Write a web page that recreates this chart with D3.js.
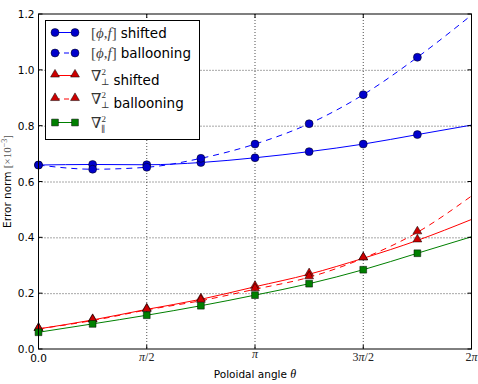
<!DOCTYPE html>
<html>
<head>
<meta charset="utf-8">
<script src="https://cdn.jsdelivr.net/npm/d3@7"></script>
<style>
  body { margin: 0; background: #fff; }
  svg { display: block; }
  .tick-label { font-family: "DejaVu Sans", sans-serif; font-size: 10.5px; fill: #000; }
  .math { font-family: "Liberation Serif", "DejaVu Serif", serif; }
</style>
</head>
<body>
<svg id="chart" width="478" height="384"></svg>
<script>
// DATA: poloidal angle in units of pi (markers), last line point is 2pi
const thetaPi = [0, 0.25, 0.5, 0.75, 1, 1.25, 1.5, 1.75, 2];

// error norms (x1e-3); the 9th value is where the curve ends at 2pi (no marker)
const phiShifted   = [0.659, 0.661, 0.660, 0.668, 0.685, 0.707, 0.734, 0.768, 0.802];
const phiBalloon   = [0.659, 0.644, 0.651, 0.683, 0.734, 0.807, 0.911, 1.045, 1.196];
const perpShifted  = [0.072, 0.104, 0.142, 0.178, 0.223, 0.268, 0.325, 0.389, 0.464];
const perpBalloon  = [0.072, 0.102, 0.140, 0.173, 0.214, 0.257, 0.325, 0.418, 0.548];
const parShifted   = [0.060, 0.090, 0.121, 0.155, 0.193, 0.234, 0.284, 0.343, 0.402];

const yTicks = [0, 0.2, 0.4, 0.6, 0.8, 1.0, 1.2];
const xTicks = [0, 0.5, 1, 1.5, 2];
const xTickLabels = ["0.0", "π/2", "π", "3π/2", "2π"];

// SETUP
const margin = { top: 14, right: 6.5, bottom: 35, left: 38.5 },
      width = 478 - margin.left - margin.right,
      height = 384 - margin.top - margin.bottom;

const svg = d3.select("#chart");
const g = svg.append("g").attr("transform", `translate(${margin.left},${margin.top})`);

// SCALES
const x = d3.scaleLinear().domain([0, 2]).range([0, width]);
const y = d3.scaleLinear().domain([0, 1.2]).range([height, 0]);

// GRID (dotted)
g.append("g").selectAll("line").data(yTicks.slice(1, -1)).join("line")
    .attr("x1", 0).attr("x2", width)
    .attr("y1", d => y(d) + 0.5).attr("y2", d => y(d) + 0.5)
    .attr("stroke", "#222").attr("stroke-width", 0.8).attr("stroke-dasharray", "1,2");
g.append("g").selectAll("line").data(xTicks.slice(1, -1)).join("line")
    .attr("x1", d => x(d)).attr("x2", d => x(d))
    .attr("y1", 0).attr("y2", height)
    .attr("stroke", "#222").attr("stroke-width", 0.8).attr("stroke-dasharray", "1,2");

// SERIES
const series = [
  { vals: phiShifted,  color: "#0000ff", mfill: "#0000cc", dash: null,  marker: "circle" },
  { vals: phiBalloon,  color: "#0000ff", mfill: "#0000cc", dash: "6,5", marker: "circle" },
  { vals: perpShifted, color: "#ff0000", mfill: "#cc0000", dash: null,  marker: "triangle" },
  { vals: perpBalloon, color: "#ff0000", mfill: "#cc0000", dash: "6,5", marker: "triangle" },
  { vals: parShifted,  color: "#008000", mfill: "#008000", dash: null,  marker: "square" }
];

const line = d3.line()
    .x((d, i) => x(thetaPi[i]))
    .y(d => y(d))
    .curve(d3.curveMonotoneX);

const symbolOf = {
  circle: d3.symbol().type(d3.symbolCircle).size(50),
  triangle: d3.symbol().type(d3.symbolTriangle).size(34),
  square: d3.symbol().type(d3.symbolSquare).size(46)
};

series.forEach(s => {
  g.append("path")
      .datum(s.vals)
      .attr("fill", "none")
      .attr("stroke", s.color)
      .attr("stroke-width", 1)
      .attr("stroke-dasharray", s.dash)
      .attr("d", line);
  g.append("g").selectAll("path")
      .data(s.vals.slice(0, 8))
      .join("path")
      .attr("transform", (d, i) => `translate(${x(thetaPi[i])},${y(d) + (s.marker === "triangle" ? -1 : 0)})`)
      .attr("d", symbolOf[s.marker]())
      .attr("fill", s.mfill)
      .attr("stroke", "#000")
      .attr("stroke-width", 0.5);
});

// FRAME
g.append("rect")
    .attr("x", 0).attr("y", 0).attr("width", width).attr("height", height)
    .attr("fill", "none").attr("stroke", "#000").attr("stroke-width", 1);

// TICKS (inward, all four sides)
yTicks.forEach(t => {
  g.append("line").attr("x1", 0).attr("x2", 4).attr("y1", y(t)).attr("y2", y(t)).attr("stroke", "#000");
  g.append("line").attr("x1", width - 4).attr("x2", width).attr("y1", y(t)).attr("y2", y(t)).attr("stroke", "#000");
  g.append("text").attr("class", "tick-label")
      .attr("x", -4).attr("y", y(t) + 4)
      .attr("text-anchor", "end")
      .text(d3.format(".1f")(t));
});
xTicks.forEach((t, i) => {
  g.append("line").attr("x1", x(t)).attr("x2", x(t)).attr("y1", height - 4).attr("y2", height).attr("stroke", "#000");
  g.append("line").attr("x1", x(t)).attr("x2", x(t)).attr("y1", 0).attr("y2", 4).attr("stroke", "#000");
  const lab = xTickLabels[i];
  if (lab === "0.0") {
    g.append("text").attr("class", "tick-label")
        .attr("x", x(t)).attr("y", height + 13).attr("text-anchor", "middle").text(lab);
  } else {
    const tx = g.append("text").attr("class", "math")
        .attr("x", x(t)).attr("y", height + (lab === "π" ? 9 : 12))
        .attr("text-anchor", "middle").attr("font-size", 12).attr("fill", "#222");
    lab.split(/(π)/).filter(p => p).forEach(p => {
      tx.append("tspan").attr("font-style", p === "π" ? "italic" : "normal").text(p);
    });
  }
});

// AXIS LABELS
const xl = g.append("text")
    .attr("x", width / 2).attr("y", height + 29)
    .attr("text-anchor", "middle")
    .attr("font-family", "DejaVu Sans, sans-serif").attr("font-size", 10.5);
xl.append("tspan").text("Poloidal angle ");
xl.append("tspan").attr("class", "math").attr("font-style", "italic").attr("font-size", 12).text("θ");

const yl = svg.append("text")
    .attr("transform", `translate(11,${margin.top + height / 2}) rotate(-90)`)
    .attr("text-anchor", "middle")
    .attr("font-family", "DejaVu Sans, sans-serif").attr("font-size", 10.5);
yl.append("tspan").text("Error norm ");
const ylm = yl.append("tspan").attr("class", "math").attr("font-size", 11).attr("fill", "#555");
ylm.append("tspan").text("[×10");
ylm.append("tspan").attr("dy", -4).attr("font-size", 8).text("−3");
ylm.append("tspan").attr("dy", 4).text("]");

// LEGEND
const legend = svg.append("g");
legend.append("rect")
    .attr("x", 45.5).attr("y", 20.5).attr("width", 154).attr("height", 119)
    .attr("fill", "#fff").attr("stroke", "#000").attr("stroke-width", 1);

const legendRows = [32.5, 53, 75.5, 99, 122.5];
const legendText = [
  { math: "phi", word: "shifted" },
  { math: "phi", word: "ballooning" },
  { math: "perp", word: "shifted" },
  { math: "perp", word: "ballooning" },
  { math: "par", word: "" }
];

series.forEach((s, i) => {
  const ly = legendRows[i];
  legend.append("line")
      .attr("x1", 55).attr("x2", 75).attr("y1", ly).attr("y2", ly)
      .attr("stroke", s.color).attr("stroke-dasharray", s.dash ? "5,4" : null);
  [55, 75].forEach(mx => {
    legend.append("path")
        .attr("transform", `translate(${mx},${ly + (s.marker === "triangle" ? -1 : 0)})`)
        .attr("d", symbolOf[s.marker]())
        .attr("fill", s.mfill).attr("stroke", "#000").attr("stroke-width", 0.5);
  });

  const t = legend.append("text").attr("x", 91).attr("y", ly + 5)
      .attr("font-family", "DejaVu Sans, sans-serif").attr("font-size", 13.5);
  const entry = legendText[i];
  if (entry.math === "phi") {
    const m = t.append("tspan").attr("class", "math").attr("font-size", 15).attr("fill", "#444");
    m.append("tspan").text("[");
    m.append("tspan").attr("font-style", "italic").text("ϕ");
    m.append("tspan").text(",");
    m.append("tspan").attr("font-style", "italic").text("f");
    m.append("tspan").text("]");
  } else {
    const m = t.append("tspan").attr("class", "math").attr("fill", "#333");
    m.append("tspan").attr("font-size", 15).text("∇");
    m.append("tspan").attr("font-size", 9).attr("dy", -6).text("2");
    m.append("tspan").attr("font-size", 9).attr("dx", -5).attr("dy", 10)
        .text(entry.math === "perp" ? "⊥" : "∥");
    m.append("tspan").attr("dy", -4).text("");
  }
  if (entry.word) t.append("tspan").attr("dx", 4).text(entry.word);
});
</script>
</body>
</html>
